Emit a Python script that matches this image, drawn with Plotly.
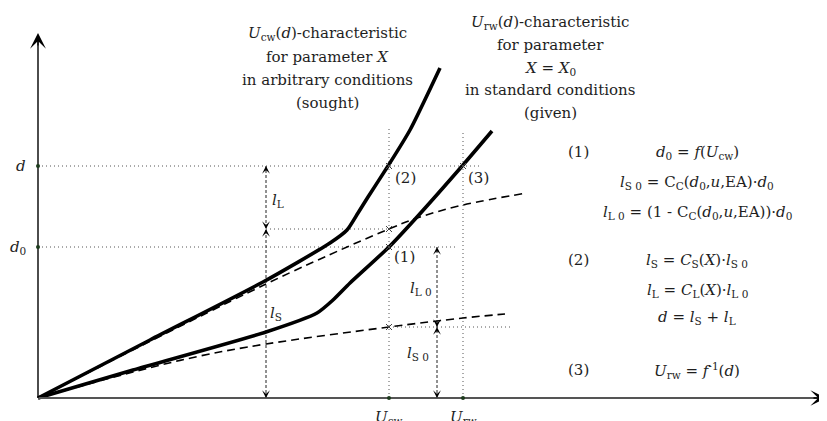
import plotly.graph_objects as go

# ---------------- data (schematic units: U horizontal, d vertical) ----------------
u_cw_curve = [0, 112, 225, 292, 309, 320, 330, 350, 372, 402]
d_cw_curve = [0, 58, 116, 155, 168, 185, 201, 232, 268, 330]

u_rw_curve = [0, 95, 228, 279, 295, 312, 351, 379, 425, 454]
d_rw_curve = [0, 28, 66, 85, 98, 115, 151, 181, 233, 267]

u_upper_dash = [0, 228, 309, 351, 379, 425, 489]
d_upper_dash = [0, 114, 151, 169, 180, 193, 205]

u_lower_dash = [0, 95, 162, 228, 351, 425, 467]
d_lower_dash = [0, 26, 42, 54, 71, 80, 84]

U_CW = 351      # U_cw on the horizontal axis
U_RW = 425      # U_rw on the horizontal axis
D = 232         # d
D0 = 151        # d0
LS_TOP = 169    # l_S + ... level on the arbitrary-condition dashed line
LS0 = 71        # l_S0 level
X_ARROW_L = 228
X_ARROW_R = 399
U_MAX = 788
D_MAX = 365

FONT = "DejaVu Serif"
TXT = "#1e1e1e"

fig = go.Figure()

# dotted helper lines
dot_x = [0, 444, None, 0, 419, None, X_ARROW_L, U_CW, None, U_CW, 475, None,
         U_CW, U_CW, None, U_RW, U_RW]
dot_y = [D, D, None, D0, D0, None, LS_TOP, LS_TOP, None, LS0, LS0, None,
         0, 270, None, 0, 268]
fig.add_trace(go.Scatter(x=dot_x, y=dot_y, mode="lines",
                         line=dict(color="#555", width=1, dash="1px,3px"),
                         hoverinfo="skip"))

# dashed vertical measuring lines
fig.add_trace(go.Scatter(x=[X_ARROW_L, X_ARROW_L, None, X_ARROW_R, X_ARROW_R],
                         y=[0, D, None, 0, D0], mode="lines",
                         line=dict(color="#222", width=1, dash="3px,2px"),
                         hoverinfo="skip"))

# dashed characteristic lines
for ux, dy in [(u_upper_dash, d_upper_dash), (u_lower_dash, d_lower_dash)]:
    fig.add_trace(go.Scatter(x=ux, y=dy, mode="lines", line_shape="spline",
                             line=dict(color="black", width=1.6, dash="8px,5px"),
                             hoverinfo="skip"))

# thick characteristic curves
for ux, dy in [(u_cw_curve, d_cw_curve), (u_rw_curve, d_rw_curve)]:
    fig.add_trace(go.Scatter(x=ux, y=dy, mode="lines", line_shape="spline",
                             line=dict(color="black", width=3.6, smoothing=0.6),
                             hoverinfo="skip"))

# axes lines
fig.add_trace(go.Scatter(x=[0, U_MAX - 4], y=[0, 0], mode="lines",
                         line=dict(color="#555", width=2), hoverinfo="skip"))
fig.add_trace(go.Scatter(x=[0, 0], y=[0, D_MAX - 4], mode="lines",
                         line=dict(color="black", width=1.4), hoverinfo="skip"))

# intersection crosses
fig.add_trace(go.Scatter(x=[U_CW, U_RW, U_CW, U_CW, U_CW],
                         y=[D, D, LS_TOP, D0, LS0], mode="markers",
                         marker=dict(symbol="x-thin", size=6,
                                     line=dict(color="#444", width=1)),
                         hoverinfo="skip"))
# axis dots
fig.add_trace(go.Scatter(x=[0, 0, U_CW, U_RW], y=[D, D0, 0, 0], mode="markers",
                         marker=dict(size=4, color="#1d3b1d"), hoverinfo="skip"))

annotations = []

def arrow(x, y, ax, ay, color="black", size=1.3, width=1.0):
    annotations.append(dict(x=x, y=y, ax=ax, ay=ay, xref="x", yref="y",
                            axref="x", ayref="y", text="", showarrow=True,
                            arrowhead=3, arrowsize=size, arrowwidth=width,
                            arrowcolor=color, standoff=0, startstandoff=0))

# axis arrowheads
arrow(0, D_MAX, 0, D_MAX - 14, size=2.2, width=1.2)
arrow(U_MAX, 0, U_MAX - 14, 0, size=2.0, width=1.3)

# measuring arrowheads
arrow(X_ARROW_L, D, X_ARROW_L, D - 6)
arrow(X_ARROW_L, LS_TOP, X_ARROW_L, LS_TOP + 6)
arrow(X_ARROW_L, LS_TOP, X_ARROW_L, LS_TOP - 6)
arrow(X_ARROW_L, 0, X_ARROW_L, 6)
arrow(X_ARROW_R, D0, X_ARROW_R, D0 - 6)
arrow(X_ARROW_R, LS0, X_ARROW_R, LS0 + 6)
arrow(X_ARROW_R, LS0, X_ARROW_R, LS0 - 6)
arrow(X_ARROW_R, 0, X_ARROW_R, 6)

def text(x, y, s, xanchor="center", yanchor="middle", size=15):
    annotations.append(dict(x=x, y=y, xref="x", yref="y", text=s,
                            showarrow=False, xanchor=xanchor, yanchor=yanchor,
                            font=dict(family=FONT, size=size, color=TXT)))

# title block 1
for yy, s in zip([365, 341, 318, 295],
                 ["<i>U</i><sub>cw</sub>(<i>d</i>)-characteristic",
                  "for parameter <i>X</i>",
                  "in arbitrary conditions",
                  "(sought)"]):
    text(289, yy, s)

# title block 2
for yy, s in zip([376, 353, 330, 308, 285],
                 ["<i>U</i><sub>rw</sub>(<i>d</i>)-characteristic",
                  "for parameter",
                  "<i>X</i> = <i>X</i><sub>0</sub>",
                  "in standard conditions",
                  "(given)"]):
    text(512, yy, s)

# equations
text(540, 246, "(1)")
text(540, 138, "(2)")
text(540, 28, "(3)")
eqs = [(246, "<i>d</i><sub>0</sub> = <i>f</i>(<i>U</i><sub>cw</sub>)"),
       (216, "<i>l</i><sub>S 0</sub> = C<sub>C</sub>(<i>d</i><sub>0</sub>,<i>u</i>,EA)·<i>d</i><sub>0</sub>"),
       (186, "<i>l</i><sub>L 0</sub> = (1 - C<sub>C</sub>(<i>d</i><sub>0</sub>,<i>u</i>,EA))·<i>d</i><sub>0</sub>"),
       (138, "<i>l</i><sub>S</sub> = <i>C</i><sub>S</sub>(<i>X</i>)·<i>l</i><sub>S 0</sub>"),
       (108, "<i>l</i><sub>L</sub> = <i>C</i><sub>L</sub>(<i>X</i>)·<i>l</i><sub>L 0</sub>"),
       (81, "<i>d</i> = <i>l</i><sub>S</sub> + <i>l</i><sub>L</sub>"),
       (28, "<i>U</i><sub>rw</sub> = <i>f</i><sup>-1</sup>(<i>d</i>)")]
for yy, s in eqs:
    text(659, yy, s)

# point labels
text(354, 141, "(1)", xanchor="left")
text(355, 220, "(2)", xanchor="left")
text(428, 220, "(3)", xanchor="left")

# measuring labels
text(232, 198, "<i>l</i><sub>L</sub>", xanchor="left")
text(230, 85, "<i>l</i><sub>S</sub>", xanchor="left")
text(396, 110, "<i>l</i><sub>L 0</sub>", xanchor="right")
text(393, 45, "<i>l</i><sub>S 0</sub>", xanchor="right")

# axis labels
text(-17, D, "<i>d</i>")
text(-20, D0, "<i>d</i><sub>0</sub>")
text(U_CW, -8, "<i>U</i><sub>cw</sub>", yanchor="top")
text(U_RW, -8, "<i>U</i><sub>rw</sub>", yanchor="top")

# page body has an 8px margin: ranges are shifted to compensate
fig.update_layout(
    width=827, height=421,
    margin=dict(l=0, r=0, t=0, b=0),
    paper_bgcolor="white", plot_bgcolor="white",
    showlegend=False,
    xaxis=dict(range=[-30, 797], visible=False, fixedrange=True),
    yaxis=dict(range=[-31, 390], visible=False, fixedrange=True),
    annotations=annotations,
)

fig.write_html("out.html")
